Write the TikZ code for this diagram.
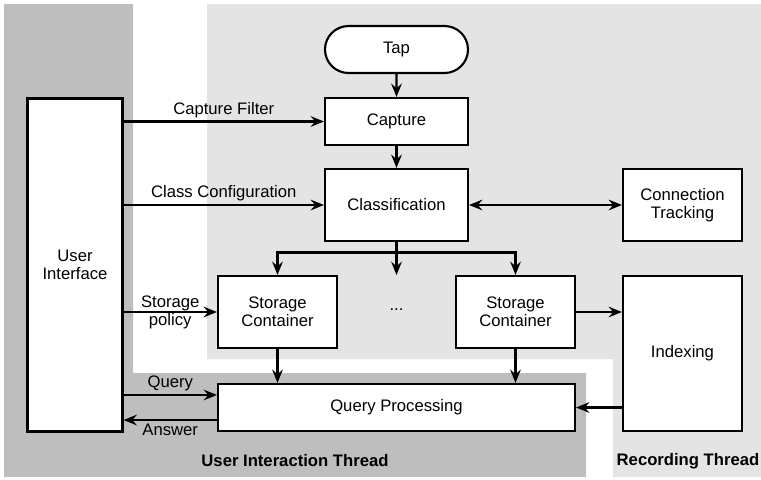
\documentclass[tikz,border=0pt]{standalone}
\usepackage{fontspec}
\setmainfont{Liberation Sans}
\usepackage{xcolor}
\usepackage{tikz}
\usetikzlibrary{arrows.meta,shapes.misc}

\definecolor{interactbg}{gray}{0.745}
\definecolor{recordbg}{gray}{0.894}

\begin{document}
\begin{tikzpicture}[x=0.75pt, y=-0.75pt,
    font=\fontsize{12.5}{13.5}\selectfont,
    line width=1.6pt,
    >={Stealth[length=10pt, width=8pt, inset=3.5pt]},
    blk/.style={draw, fill=white, inner sep=0pt, align=center},
    lbl/.style={inner sep=2pt, align=center}]
      \useasboundingbox (0, 0) rectangle (761, 479);
      \fill[interactbg] (4, 4) -- (133, 4) -- (133, 373) -- (586, 373) -- (586, 477) -- (4, 477) -- cycle;
      \fill[recordbg] (207, 4) -- (761, 4) -- (761, 477) -- (613, 477) -- (613, 359) -- (207, 359) -- cycle;
      \node[blk, rounded rectangle, minimum width=107.25pt, minimum height=35.25pt] (tap) at (396.5, 49.5) {Tap};
      \node[blk, minimum width=107.25pt, minimum height=35.25pt] (capture) at (396.5, 121.5) {Capture};
      \node[blk, minimum width=107.25pt, minimum height=54pt] (classif) at (396.5, 205) {Classification};
      \node[blk, minimum width=89.25pt, minimum height=54pt] (conntrack) at (682.5, 205) {Connection\\Tracking};
      \node[blk, minimum width=71.25pt, minimum height=249.75pt] (ui) at (75, 265) {User\\Interface};
      \node[blk, minimum width=89.25pt, minimum height=54pt] (store1) at (277.5, 312) {Storage\\Container};
      \node[lbl] (dots) at (396.5, 310) {...};
      \node[blk, minimum width=89.25pt, minimum height=54pt] (store2) at (515.5, 312) {Storage\\Container};
      \node[blk, minimum width=89.25pt, minimum height=116.25pt] (indexing) at (682.5, 353.5) {Indexing};
      \node[blk, minimum width=267.75pt, minimum height=35.25pt] (query) at (396.5, 407.5) {Query Processing};
      \node[lbl, font=\fontsize{12.5}{13.5}\selectfont\bfseries] (uithread) at (295, 461) {User Interaction Thread};
      \node[lbl, font=\fontsize{12.5}{13.5}\selectfont\bfseries] (recthread) at (688, 461) {Recording Thread};
      \coordinate (branch) at (396.5, 252.5);
      \coordinate (dotsin) at (396.5, 275);
      \coordinate (qin) at ([yshift=9.4pt]query.west);
      \coordinate (aout) at ([yshift=-9.4pt]query.west);
      \draw[->] (tap) -- (capture);
      \draw[->] (capture) -- (classif);
      \draw[<->] (classif) -- (conntrack);
      \draw (classif) -- (branch);
      \draw[->] (branch) -| (store1);
      \draw[->] (branch) -| (store2);
      \draw[->] (branch) -- (dotsin);
      \draw[->] (ui.east |- capture) -- (capture) node[lbl, midway, above] {Capture Filter};
      \draw[->] (ui.east |- classif) -- (classif) node[lbl, midway, above] {Class Configuration};
      \draw[->] (ui.east |- store1) -- (store1) node[lbl, midway] {Storage\\policy};
      \draw[->] (ui.east |- qin) -- (qin) node[lbl, midway, above] {Query};
      \draw[->] (aout) -- (ui.east |- aout) node[lbl, midway, below] {Answer};
      \draw[->] (store1) -- (store1 |- query.north);
      \draw[->] (store2) -- (store2 |- query.north);
      \draw[->] (store2) -- (store2 -| indexing.west);
      \draw[->] (indexing.west |- query) -- (query);
    \end{tikzpicture}
\end{document}
